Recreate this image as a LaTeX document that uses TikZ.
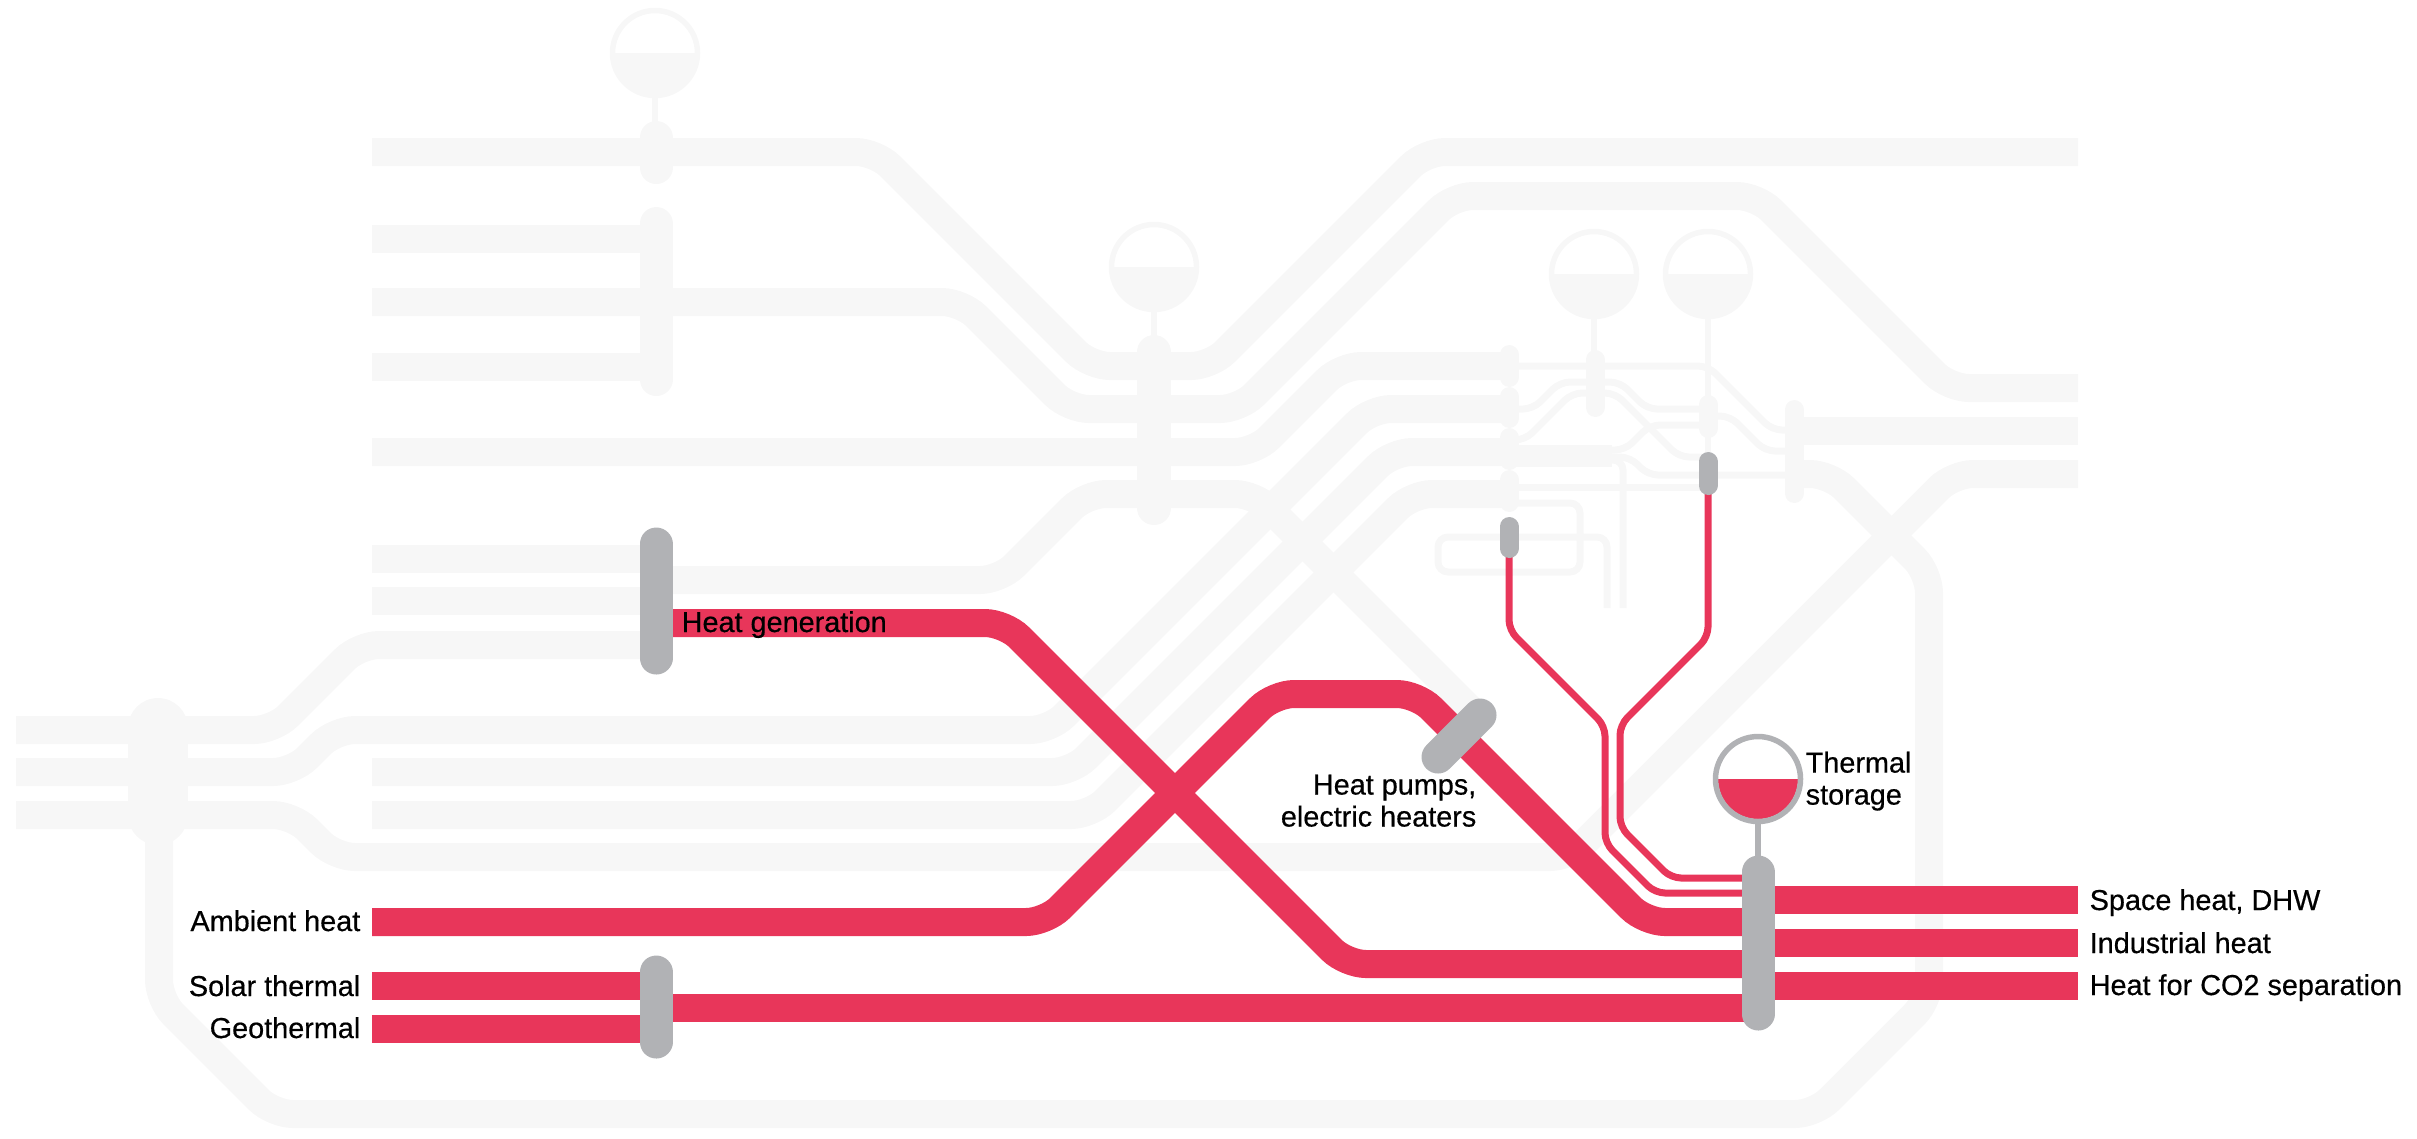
\documentclass[tikz,border=0pt]{standalone}
\usepackage{fontspec}
\setmainfont{Liberation Sans}[FakeBold=0.5]
\definecolor{heatred}{HTML}{E8365A}
\definecolor{convgrey}{HTML}{B1B2B5}
\definecolor{netgrey}{HTML}{F7F7F7}

\begin{document}
\begin{tikzpicture}[
    x=0.1mm, y=-0.1mm,
    font=\fontsize{8.2pt}{9.1pt}\selectfont,
    grey_line/.style={draw=netgrey, line width=2.8mm, rounded corners=2mm},
    grey_thin/.style={draw=netgrey, line width=0.7mm, rounded corners=1mm},
    grey_bar/.style={draw=netgrey, line width=3.3mm, line cap=round},
    grey_pin/.style={draw=netgrey, line width=1.9mm, line cap=round},
    grey_stem/.style={draw=netgrey, line width=0.55mm},
    heat_line/.style={draw=heatred, line width=2.8mm, rounded corners=2mm},
    heat_thin/.style={draw=heatred, line width=0.7mm, rounded corners=1mm},
    conv_bar/.style={draw=convgrey, line width=3.3mm, line cap=round},
    conv_pin/.style={draw=convgrey, line width=1.9mm, line cap=round},
    tank_ring/.style={line width=0.55mm},
    label/.style={inner sep=0pt, text=black}
]

\useasboundingbox (0,0) rectangle (2417,1138);

% Background network: lines from the left edge
\draw[grey_line] (16,730) -- (274,730) -- (359,645) -- (656,645);
\draw[grey_line] (16,772) -- (293,772) -- (335,730) -- (1050,730) -- (1371,409) -- (1509,409);
\draw[grey_line] (16,815) -- (293,815) -- (335,857) -- (1570,857) -- (1953,474) -- (2078,474);
\draw[grey_line] (159,800) -- (159,1000) -- (273,1114) -- (1815,1114) -- (1929,1000) -- (1929,573) -- (1830,474) -- (1794,474);

% Background network: upper lines
\draw[grey_line] (372,152) -- (876,152) -- (1090,366) -- (1211,366) -- (1425,152) -- (2078,152);
\draw[grey_line] (372,239) -- (656,239);
\draw[grey_line] (372,302) -- (962,302) -- (1069,409) -- (1240,409) -- (1453,196) -- (1757,196) -- (1949,388) -- (2078,388);
\draw[grey_line] (372,367) -- (656,367);
\draw[grey_line] (372,452) -- (1255,452) -- (1341,366) -- (1509,366);
\draw[grey_line] (372,559) -- (656,559);
\draw[grey_line] (372,601) -- (656,601);
\draw[grey_line] (656,580) -- (1000,580) -- (1086,494) -- (1255,494) -- (1478,717);
\draw[grey_line] (372,772) -- (1072,772) -- (1392,452) -- (1509,452);
\draw[grey_line, line width=2.2mm] (1509,456) -- (1612,456);
\draw[grey_line] (372,815) -- (1091,815) -- (1412,494) -- (1509,494);
\draw[grey_line] (1794,431) -- (2078,431);

% Background network: thin lines between the tanks
\draw[grey_thin] (1509,366) -- (1708,366) -- (1772,430) -- (1794,430);
\draw[grey_thin] (1509,409) -- (1533,409) -- (1560,382) -- (1620,382) -- (1647,409) -- (1708,409);
\draw[grey_thin] (1708,416) -- (1730,416) -- (1765,451) -- (1794,451);
\draw[grey_thin] (1509,440) -- (1525,440) -- (1572,393) -- (1615,393) -- (1679,457) -- (1708,457);
\draw[grey_thin] (1605,450) -- (1625,450) -- (1650,425) -- (1708,425);
\draw[grey_thin] (1605,457) -- (1630,457) -- (1648,475) -- (1794,475);
\draw[grey_thin] (1605,460) -- (1623,460) -- (1623,608);
\draw[grey_thin] (1509,487) -- (1708,487);
\draw[grey_thin] (1509,503) -- (1580,503) -- (1580,572) -- (1438,572) -- (1438,537) -- (1607,537) -- (1607,608);

% Background network: bars and tanks
\draw[grey_bar] (656,137.5) -- (656,167.5);
\draw[grey_bar] (656,223.5) -- (656,379.5);
\draw[grey_bar, line width=3.4mm] (1154,352) -- (1154,508);
\draw[grey_bar, line width=6mm] (158,728) -- (158,815);
\draw[grey_pin] (1509,354.5) -- (1509,377.5);
\draw[grey_pin] (1509,396.5) -- (1509,418.5);
\draw[grey_pin] (1509,437.5) -- (1509,460.5);
\draw[grey_pin] (1509,479.5) -- (1509,502.5);
\draw[grey_pin] (1595,359.5) -- (1595,407.5);
\draw[grey_pin] (1708,404.5) -- (1708,428.5);
\draw[grey_pin] (1794,409.5) -- (1794,493.5);

\draw[grey_stem] (655,98) -- (655,137);
\draw[grey_stem] (1154,312) -- (1154,352);
\draw[grey_stem] (1594,319) -- (1594,360);
\draw[grey_stem] (1708,319) -- (1708,470);

\fill[netgrey] (612.5,53) arc[start angle=180, end angle=0, radius=42.5] -- cycle;
\draw[netgrey, tank_ring] (655,53) circle[radius=42.5];
\fill[netgrey] (1111.5,267) arc[start angle=180, end angle=0, radius=42.5] -- cycle;
\draw[netgrey, tank_ring] (1154,267) circle[radius=42.5];
\fill[netgrey] (1551.5,274) arc[start angle=180, end angle=0, radius=42.5] -- cycle;
\draw[netgrey, tank_ring] (1594,274) circle[radius=42.5];
\fill[netgrey] (1665.5,274) arc[start angle=180, end angle=0, radius=42.5] -- cycle;
\draw[netgrey, tank_ring] (1708,274) circle[radius=42.5];

% Heat flows
\draw[heat_line] (656,623) -- (1005,623) -- (1346,964) -- (1758,964);
\draw[heat_line] (372,922) -- (1046,922) -- (1274,694) -- (1417,694) -- (1645,922) -- (1758,922);
\draw[heat_line] (372,986) -- (656,986);
\draw[heat_line] (372,1029) -- (656,1029);
\draw[heat_line] (656,1008) -- (1758,1008);
\draw[heat_line] (1758,900) -- (2078,900);
\draw[heat_line] (1758,943) -- (2078,943);
\draw[heat_line] (1758,986) -- (2078,986);
\draw[heat_thin] (1509,548) -- (1509,630) -- (1605,726) -- (1605,843) -- (1655,893) -- (1758,893);
\draw[heat_thin] (1708,485) -- (1708,637) -- (1620,725) -- (1620,827) -- (1671,878) -- (1758,878);

% Converters
\draw[conv_bar] (656,544) -- (656,658);
\draw[conv_bar] (656,972) -- (656,1042);
\draw[conv_bar] (1758,872) -- (1758,1014);
\draw[conv_bar] (1438,757) -- (1480,715);
\draw[conv_pin] (1509,526.5) -- (1509,548.5);
\draw[conv_pin] (1708,461.5) -- (1708,485.5);

% Thermal storage
\draw[convgrey, line width=0.55mm] (1758,822) -- (1758,872);
\fill[heatred] (1718,779) arc[start angle=180, end angle=0, radius=40] -- cycle;
\draw[convgrey, tank_ring] (1758,779) circle[radius=42.5];

% Labels
\node[label, anchor=base west] (heat_gen) at (681,632) {Heat generation};
\node[label, anchor=base east] (ambient) at (361,931) {Ambient heat};
\node[label, anchor=base east] (solar) at (361,996) {Solar thermal};
\node[label, anchor=base east] (geo) at (361,1038) {Geothermal};
\node[label, anchor=north east, align=right] (heat_pumps) at (1477,774) {Heat pumps,\\electric heaters};
\node[label, anchor=north west, align=left] (storage) at (1805,751) {Thermal\\storage};
\node[label, anchor=base west] (space_heat) at (2089,910) {Space heat, DHW};
\node[label, anchor=base west] (industrial) at (2089,953) {Industrial heat};
\node[label, anchor=base west] (co2_heat) at (2089,995) {Heat for CO2 separation};

\end{tikzpicture}
\end{document}
